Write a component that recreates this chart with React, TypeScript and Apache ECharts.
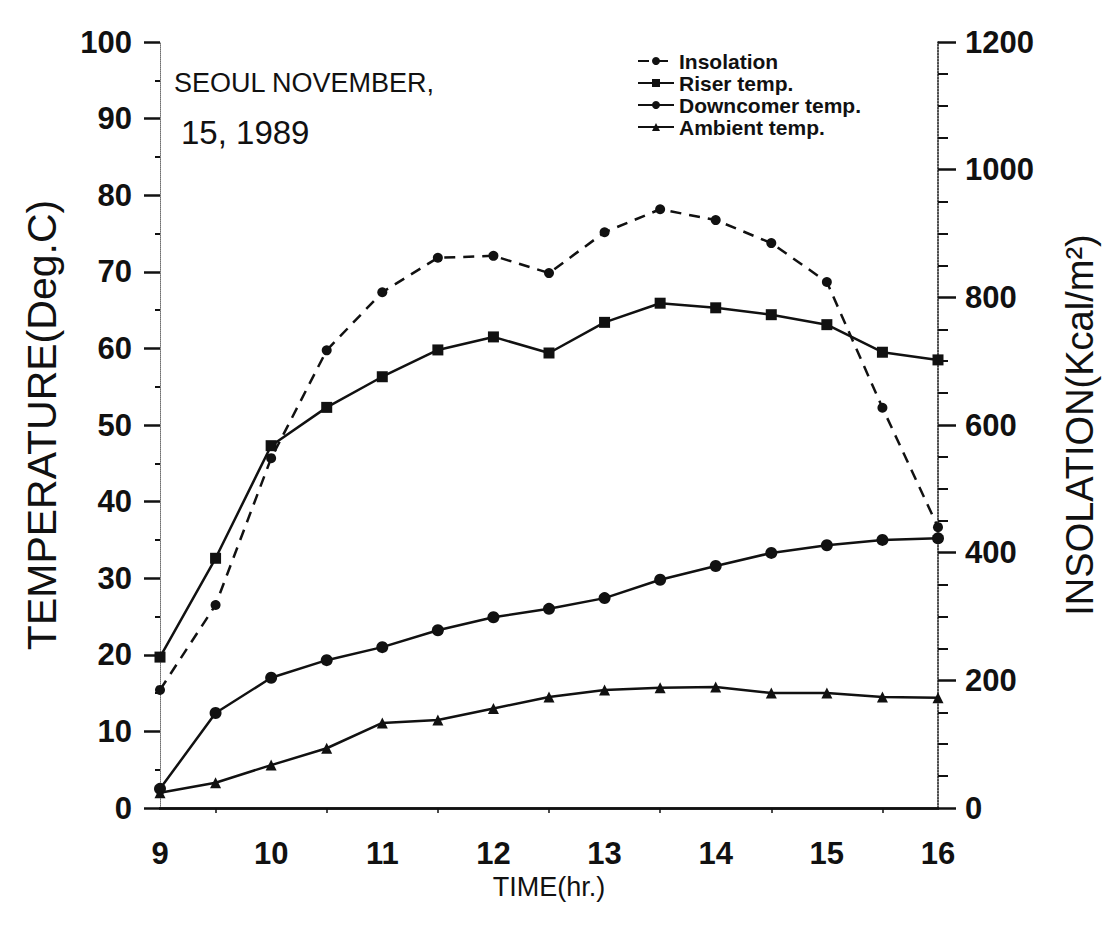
import React, { useEffect, useRef } from "react";
import * as echarts from "echarts";

// Time of day (hours) at which readings were taken
const hours = [9, 9.5, 10, 10.5, 11, 11.5, 12, 12.5, 13, 13.5, 14, 14.5, 15, 15.5, 16];

// Insolation, Kcal/m² (right axis)
const insolation = [185, 318, 548, 717, 808, 862, 865, 838, 902, 938, 921, 885, 824, 627, 440];
// Temperatures, Deg.C (left axis)
const riserTemp = [19.7, 32.6, 47.3, 52.3, 56.3, 59.8, 61.5, 59.4, 63.4, 65.9, 65.3, 64.4, 63.1, 59.5, 58.5];
const downcomerTemp = [2.5, 12.4, 17.0, 19.3, 21.0, 23.2, 24.9, 26.0, 27.4, 29.8, 31.6, 33.3, 34.3, 35.0, 35.2];
const ambientTemp = [2.0, 3.3, 5.6, 7.8, 11.1, 11.5, 13.0, 14.5, 15.4, 15.7, 15.8, 15.0, 15.0, 14.5, 14.4];

const tempTicks = { min: 0, max: 100, interval: 10 };
const insolTicks = { min: 0, max: 1200, interval: 200 };
const timeTicks = { min: 9, max: 16, interval: 1 };

const FONT = "'Liberation Sans', Arial, Helvetica, sans-serif";
const INK = "#111";

const pairs = (ys: number[]) => hours.map((h, i) => [h, ys[i]]);

export default function App() {
  const ref = useRef<HTMLDivElement>(null);

  useEffect(() => {
    if (!ref.current) return;
    const chart = echarts.init(ref.current, null, { renderer: "svg" });

    const tickLabel = {
      color: INK,
      fontFamily: FONT,
      fontWeight: "bold" as const,
      fontSize: 31,
      formatter: (v: number) => String(v),
    };

    chart.setOption({
      animation: false,
      backgroundColor: "#fff",
      textStyle: { fontFamily: FONT, color: INK },
      grid: { left: 160, top: 42, width: 778, height: 766, containLabel: false },
      legend: {
        orient: "vertical",
        left: 632,
        top: 45,
        itemWidth: 36,
        itemHeight: 10,
        itemGap: 0,
        textStyle: { fontFamily: FONT, fontWeight: "bold", fontSize: 21, color: INK, lineHeight: 22 },
        data: ["Insolation", "Riser temp.", "Downcomer temp.", "Ambient temp."],
      },
      graphic: [
        {
          type: "text",
          left: 174,
          top: 69,
          style: { text: "SEOUL NOVEMBER,", font: `27px ${FONT}`, fill: INK },
        },
        {
          type: "text",
          left: 181,
          top: 116,
          style: { text: "15, 1989", font: `33px ${FONT}`, fill: INK },
        },
      ],
      xAxis: [
        {
          type: "value",
          position: "bottom",
          ...timeTicks,
          name: "TIME(hr.)",
          nameLocation: "middle",
          nameGap: 65,
          nameTextStyle: { fontFamily: FONT, fontSize: 27, color: INK },
          axisLine: { lineStyle: { color: INK, width: 2.5 } },
          axisTick: { show: false },
          minorTick: { show: true, splitNumber: 2, length: 5, lineStyle: { color: INK, width: 1.5 } },
          axisLabel: { ...tickLabel, margin: 30 },
          splitLine: { show: false },
        },
        {
          type: "value",
          position: "top",
          ...timeTicks,
          axisLine: { lineStyle: { color: INK, width: 2.5 } },
          axisTick: { show: false },
          axisLabel: { show: false },
          splitLine: { show: false },
        },
      ],
      yAxis: [
        {
          type: "value",
          position: "left",
          ...tempTicks,
          name: "TEMPERATURE(Deg.C)",
          nameLocation: "middle",
          nameRotate: 90,
          nameGap: 98,
          nameTextStyle: { fontFamily: FONT, fontSize: 41, color: INK },
          axisLine: { show: true, lineStyle: { color: INK, width: 1, type: "dotted", opacity: 0.6 } },
          axisTick: { show: true, inside: false, length: 16, lineStyle: { color: INK, width: 2.5 } },
          minorTick: { show: true, splitNumber: 2, length: 5, lineStyle: { color: INK, width: 2 } },
          axisLabel: { ...tickLabel, margin: 28 },
          splitLine: { show: false },
        },
        {
          type: "value",
          position: "right",
          ...insolTicks,
          name: "INSOLATION(Kcal/m²)",
          nameLocation: "middle",
          nameRotate: 90,
          nameGap: 123,
          nameTextStyle: { fontFamily: FONT, fontSize: 38, color: INK },
          axisLine: { show: true, lineStyle: { color: INK, width: 1.5, type: "dotted" } },
          axisTick: { show: true, inside: false, length: 18, lineStyle: { color: INK, width: 2.5 } },
          minorTick: { show: true, splitNumber: 4, length: 10, lineStyle: { color: INK, width: 2 } },
          axisLabel: { ...tickLabel, margin: 27 },
          splitLine: { show: false },
        },
      ],
      series: [
        {
          name: "Insolation",
          type: "line",
          yAxisIndex: 1,
          data: pairs(insolation),
          symbol: "circle",
          symbolSize: 10,
          itemStyle: { color: INK },
          lineStyle: { color: INK, width: 2.5, type: [11, 8] },
        },
        {
          name: "Riser temp.",
          type: "line",
          yAxisIndex: 0,
          data: pairs(riserTemp),
          symbol: "rect",
          symbolSize: 11,
          itemStyle: { color: INK },
          lineStyle: { color: INK, width: 2.5 },
        },
        {
          name: "Downcomer temp.",
          type: "line",
          yAxisIndex: 0,
          data: pairs(downcomerTemp),
          symbol: "circle",
          symbolSize: 12,
          itemStyle: { color: INK },
          lineStyle: { color: INK, width: 2.5 },
        },
        {
          name: "Ambient temp.",
          type: "line",
          yAxisIndex: 0,
          data: pairs(ambientTemp),
          symbol: "triangle",
          symbolSize: 11,
          itemStyle: { color: INK },
          lineStyle: { color: INK, width: 2.5 },
        },
      ],
    });

    return () => chart.dispose();
  }, []);

  return (
    <div
      ref={ref}
      style={{ position: "fixed", left: 0, top: 0, width: 1120, height: 932, background: "#fff" }}
    />
  );
}
